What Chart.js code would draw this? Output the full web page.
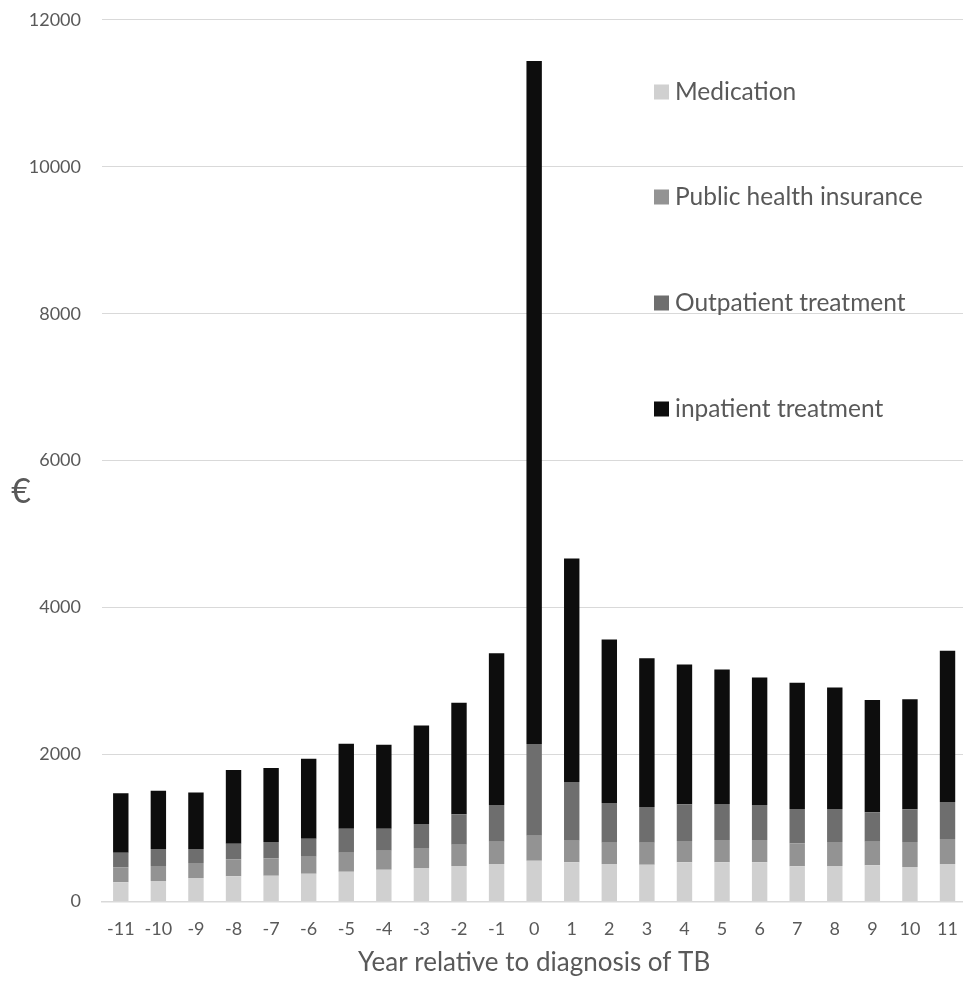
<!DOCTYPE html>
<html>
<head>
<meta charset="utf-8">
<script src="https://cdn.jsdelivr.net/npm/chart.js@4.4.1/dist/chart.umd.min.js"></script>
<style>
  html, body { margin: 0; padding: 0; background: #ffffff; overflow: hidden; }
  #wrap { position: relative; width: 975px; height: 993px; margin-top: -12px; }
</style>
</head>
<body>
<div id="wrap"><canvas id="chart"></canvas></div>
<script>
// Yearly costs per patient (€), relative to the year of TB diagnosis
const years = ['-11','-10','-9','-8','-7','-6','-5','-4','-3','-2','-1','0','1','2','3','4','5','6','7','8','9','10','11'];

const medication = [261, 279, 320, 343, 351, 378, 406, 433, 456, 483, 510, 555, 533, 510, 501, 533, 533, 533, 479, 483, 492, 469, 510];
const publicHealthInsurance = [204, 204, 204, 231, 237, 232, 258, 258, 272, 290, 304, 340, 294, 290, 299, 290, 304, 304, 313, 327, 322, 341, 340];
const outpatientTreatment = [199, 231, 190, 213, 222, 245, 327, 300, 326, 413, 499, 1248, 799, 540, 486, 499, 489, 476, 466, 448, 399, 444, 504];
const inpatientTreatment = [808, 793, 771, 1002, 1006, 1088, 1156, 1142, 1343, 1519, 2064, 9297, 3042, 2225, 2023, 1905, 1833, 1737, 1719, 1656, 1528, 1497, 2058];

const yTicks = [0, 2000, 4000, 6000, 8000, 10000, 12000];

const seriesNames = ['Medication', 'Public health insurance', 'Outpatient treatment', 'inpatient treatment'];
const seriesColors = ['#d0d0d0', '#939393', '#6e6e6e', '#0d0d0d'];

const textColor = '#595959';
const fontFamily = 'Lato, "Open Sans", sans-serif';

// The canvas sits 12px above the page top, so page coordinates are offset here
const PAGE_SHIFT = 12;

// Legend stacked vertically inside the plot, plus the upright € axis label
const sideLabels = {
  id: 'sideLabels',
  afterDraw(chart) {
    const ctx = chart.ctx;
    ctx.save();
    ctx.fillStyle = textColor;
    ctx.font = '34px ' + fontFamily;
    ctx.textAlign = 'center';
    ctx.textBaseline = 'middle';
    ctx.fillText('€', 21, 492 + PAGE_SHIFT);

    const rowsY = [92, 197, 303, 409];
    chart.data.datasets.forEach((ds, i) => {
      const y = rowsY[i] + PAGE_SHIFT;
      ctx.fillStyle = ds.backgroundColor;
      ctx.fillRect(654, y - 7.5, 15, 15);
      ctx.fillStyle = textColor;
      ctx.font = '24.5px ' + fontFamily;
      ctx.textAlign = 'left';
      ctx.textBaseline = 'middle';
      ctx.fillText(ds.label, 675, y);
    });
    ctx.restore();
  }
};

const datasets = [medication, publicHealthInsurance, outpatientTreatment, inpatientTreatment].map((values, i) => ({
  label: seriesNames[i],
  data: values,
  backgroundColor: seriesColors[i],
  borderWidth: 0,
  categoryPercentage: 1.0,
  barPercentage: 0.41
}));

new Chart(document.getElementById('chart'), {
  type: 'bar',
  data: { labels: years, datasets },
  options: {
    responsive: true,
    maintainAspectRatio: false,
    animation: false,
    layout: { padding: { left: 0, right: 2, top: 7, bottom: 0 } },
    plugins: {
      legend: { display: false },
      tooltip: { enabled: false }
    },
    scales: {
      x: {
        stacked: true,
        grid: { display: false, drawTicks: false },
        border: { display: true, color: '#d9d9d9', width: 1.5 },
        ticks: {
          color: textColor,
          font: { family: fontFamily, size: 18 },
          padding: 17,
          maxRotation: 0,
          autoSkip: false
        },
        title: {
          display: true,
          text: 'Year relative to diagnosis of TB',
          color: textColor,
          font: { family: fontFamily, size: 26 },
          padding: { top: 0, bottom: 3 }
        },
        afterFit(scale) { scale.height = 79.5; }
      },
      y: {
        stacked: true,
        min: 0,
        max: 12000,
        afterBuildTicks(scale) { scale.ticks = yTicks.map(v => ({ value: v })); },
        grid: { color: '#d9d9d9', lineWidth: 1, drawTicks: false },
        border: { display: false },
        ticks: {
          color: textColor,
          font: { family: fontFamily, size: 18 },
          padding: 21,
          callback: (v) => String(v)
        },
        afterFit(scale) { scale.width = 102; }
      }
    }
  },
  plugins: [sideLabels]
});
</script>
</body>
</html>
